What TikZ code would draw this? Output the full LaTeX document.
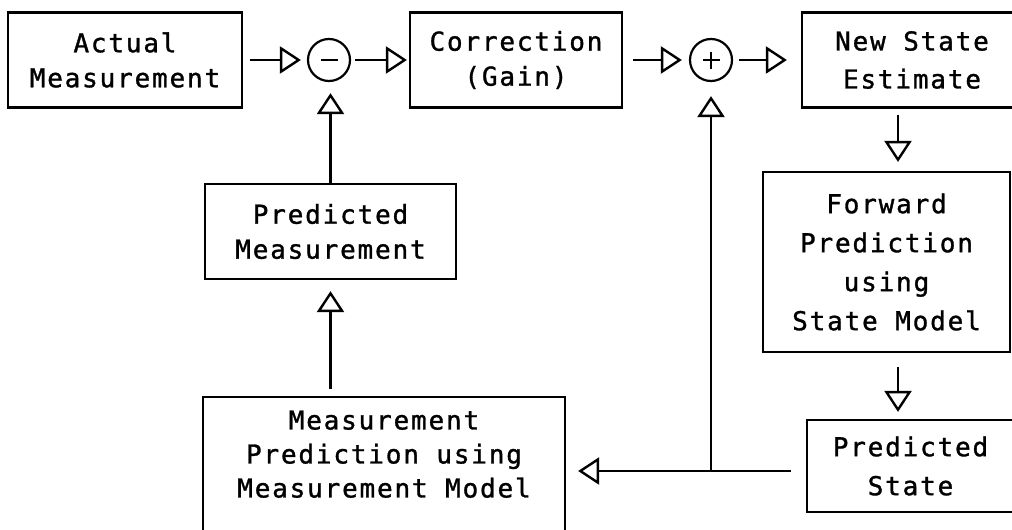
\documentclass[tikz,border=0pt]{standalone}
\usepackage{fontspec}
\newfontfamily\diagfont[LetterSpace=7.0, FakeBold=1.2]{DejaVu Sans Mono}
\usetikzlibrary{arrows.meta}
\begin{document}
\begin{tikzpicture}[x=1pt,y=-1pt,
  box/.style={draw, line width=2.2pt, inner sep=0pt, align=center,
    font=\diagfont\fontsize{26}{35}\selectfont},
  sumnode/.style={draw, circle, line width=2.2pt, minimum size=42pt, inner sep=0pt},
  sign/.style={line width=2.6pt},
  arr/.style={line width=2.8pt, -{Triangle[open, length=21pt, width=27pt, line width=2.4pt]}},
]
\clip (0,0) rectangle (1012,530);
\fill[white] (0,0) rectangle (1012,530);

% boxes
\node[box, minimum width=234pt, minimum height=95pt] (am) at (125,60) {Actual\\Measurement};
\node[box, minimum width=212pt, minimum height=95pt] (corr) at (516,60) {Correction\\(Gain)};
\node[box, minimum width=220pt, minimum height=95pt,
  font=\diagfont\fontsize{26}{38}\selectfont] (nse) at (912,60) {New State\\Estimate};
\node[box, minimum width=247pt, minimum height=180pt,
  font=\diagfont\fontsize{26}{39}\selectfont] (fwd) at (886.5,262) {Forward\\Prediction\\using\\State Model};
\node[box, minimum width=207pt, minimum height=92pt,
  font=\diagfont\fontsize{26}{39}\selectfont] (ps) at (910.5,466) {Predicted\\State};
\node[box, minimum width=251pt, minimum height=95pt] (pm) at (330.5,231.5) {Predicted\\Measurement};
\node[box, minimum width=362pt, minimum height=148pt,
  font=\diagfont\fontsize{26}{34}\selectfont] (mp) at (384,471) {Measurement\\Prediction using\\Measurement Model\\\mbox{}};

% summing junctions
\node[sumnode, path picture={
  \draw[sign] ([xshift=-8.5pt]path picture bounding box.center) -- ([xshift=8.5pt]path picture bounding box.center);
}] (minus) at (329,60) {};
\node[sumnode, path picture={
  \draw[sign] ([xshift=-8.5pt]path picture bounding box.center) -- ([xshift=8.5pt]path picture bounding box.center);
  \draw[sign] ([yshift=-8.5pt]path picture bounding box.center) -- ([yshift=8.5pt]path picture bounding box.center);
}] (plus) at (711,60) {};

\coordinate (dx) at (898,0);
\coordinate (j) at (plus |- mp.east);

% connectors
\draw[arr, shorten <=7pt, shorten >=6pt] (am.east) -- (minus.west);
\draw[arr, shorten <=4pt, shorten >=2pt] (minus.east) -- (corr.west);
\draw[arr, shorten <=10pt, shorten >=7pt] (corr.east) -- (plus.west);
\draw[arr, shorten <=6pt, shorten >=14pt] (plus.east) -- (nse.west);
\draw[arr, shorten <=6pt, shorten >=9pt] (nse.south -| dx) -- (fwd.north -| dx);
\draw[arr, shorten <=14pt, shorten >=7pt] (fwd.south -| dx) -- (ps.north -| dx);
\draw[arr, shorten <=15pt, shorten >=12pt] (ps.west |- j) -- (mp.east |- j);
\draw[arr, shorten >=14pt] (j) -- (plus.south);
\draw[arr, shorten <=7pt, shorten >=11pt] (pm.south |- mp.north) -- (pm.south);
\draw[arr, shorten >=11pt] (pm.north) -- (pm.north |- minus.south);
\end{tikzpicture}
\end{document}
